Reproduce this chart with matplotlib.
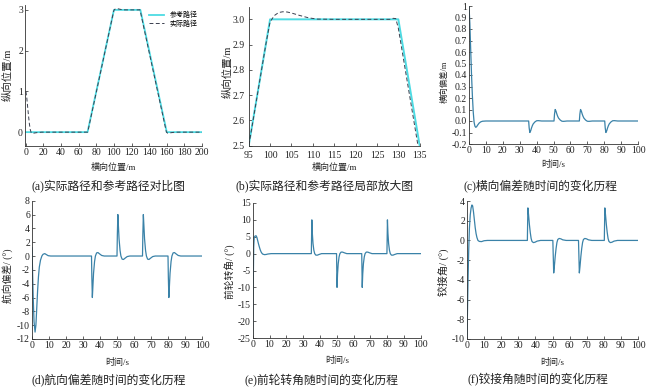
import numpy as np
import matplotlib
matplotlib.use("Agg")
import matplotlib.pyplot as plt

plt.rcParams['font.family'] = ['Liberation Serif', 'Noto Sans CJK SC']
plt.rcParams['axes.unicode_minus'] = False

W, H = 650, 387

# (a)/(b) path data
ref_x = [0, 70, 100, 130, 160, 200]
ref_y = [0, 0, 3, 3, 0, 0]
act_x = [0, 1, 2, 3, 4, 5, 6, 7, 8, 10, 13, 18, 70, 71, 99, 100, 101, 102, 103,
         104, 105, 107, 109, 111, 115, 128, 128.8, 129.4, 130, 134.6, 159.6,
         161, 163, 166, 170, 200]
act_y = [1.0, 0.85, 0.62, 0.4, 0.2, 0.06, -0.01, -0.03, -0.03, -0.02, -0.01, 0,
         0, 0.08, 2.9, 2.99, 3.015, 3.027, 3.03, 3.029, 3.025, 3.015, 3.006,
         3.001, 3.0, 3.0, 3.004, 3.003, 2.965, 2.5, 0.0, -0.025, -0.02, -0.01,
         0, 0]

# (c) lateral error
lat_t = [0, 0.5, 1, 1.5, 2, 2.5, 3, 3.5, 4, 4.5, 5, 6, 7, 8, 10,
         35.3, 35.6, 36, 36.5, 37, 37.5, 38, 39, 40, 41, 43,
         50.3, 50.6, 51, 51.5, 52, 52.5, 53, 54, 55, 56, 58,
         65.3, 65.6, 66, 66.5, 67, 67.5, 68, 69, 70, 71, 73,
         80.3, 80.6, 81, 81.5, 82, 82.5, 83, 84, 85, 86, 88, 100]
lat_v = [1.0, 0.85, 0.62, 0.4, 0.22, 0.08, -0.01, -0.045, -0.055, -0.05, -0.038,
         -0.018, -0.007, -0.002, 0,
         0, -0.06, -0.1, -0.085, -0.06, -0.04, -0.025, -0.008, 0.002, 0.003, 0,
         0, 0.06, 0.1, 0.085, 0.06, 0.04, 0.025, 0.008, -0.002, -0.003, 0,
         0, 0.06, 0.1, 0.085, 0.06, 0.04, 0.025, 0.008, -0.002, -0.003, 0,
         0, -0.06, -0.1, -0.085, -0.06, -0.04, -0.025, -0.008, 0.002, 0.003, 0, 0]

# (d) heading error
head_t = [0, 0.3, 0.7, 1.2, 1.8, 2.3, 2.8, 3.3, 3.8, 4.3, 5, 5.8, 6.5, 7.5, 8.5,
          9.5, 11,
          35, 35.2, 35.5, 35.8, 36.2, 36.8, 37.3, 38, 38.8, 39.8, 41, 42.5,
          50, 50.2, 50.5, 50.8, 51.2, 51.8, 52.3, 53, 53.8, 54.8, 56, 57.5,
          65, 65.2, 65.5, 65.8, 66.2, 66.8, 67.3, 68, 68.8, 69.8, 71, 72.5,
          80, 80.2, 80.5, 80.8, 81.2, 81.8, 82.3, 83, 83.8, 84.8, 86, 87.5, 100]
head_v = [1.2, -2, -6, -9.5, -11, -10, -7.5, -5, -3, -1.6, -0.6, 0, 0.25, 0.35,
          0.2, 0.05, 0,
          0, -3, -6, -4.5, -2.5, -0.8, 0, 0.45, 0.5, 0.3, 0.08, 0,
          0, 3, 6, 4.5, 2.5, 0.8, 0, -0.45, -0.5, -0.3, -0.08, 0,
          0, 3, 6, 4.5, 2.5, 0.8, 0, -0.45, -0.5, -0.3, -0.08, 0,
          0, -3, -6, -4.5, -2.5, -0.8, 0, 0.45, 0.5, 0.3, 0.08, 0, 0]

# (e) front wheel angle
steer_t = [0, 0.3, 0.6, 0.9, 1.4, 2, 2.5, 3, 3.5, 4, 4.5, 5, 5.5, 6, 7, 8, 9, 11,
           34.9, 35.2, 35.5, 35.9, 36.4, 36.9, 37.6, 38.5, 39.5, 41,
           49.9, 50.2, 50.5, 50.9, 51.4, 51.9, 52.6, 53.5, 54.5, 56,
           64.9, 65.2, 65.5, 65.9, 66.4, 66.9, 67.6, 68.5, 69.5, 71,
           79.9, 80.2, 80.5, 80.9, 81.4, 81.9, 82.6, 83.5, 84.5, 86, 100]
steer_v = [-24, -10, 2, 4.8, 5.2, 5.3, 4.8, 3.8, 2.8, 1.9, 1.1, 0.5, 0.1, -0.15,
           -0.3, -0.25, -0.12, 0,
           0, 10, 6, 3, 1, 0, -0.45, -0.45, -0.25, 0,
           0, -10, -6, -3, -1, 0, 0.45, 0.45, 0.25, 0,
           0, -10, -6, -3, -1, 0, 0.45, 0.45, 0.25, 0,
           0, 10, 6, 3, 1, 0, -0.45, -0.45, -0.25, 0, 0]

# (f) articulation angle
art_t = [0, 0.3, 0.6, 1.0, 1.4, 1.9, 2.4, 2.9, 3.3, 3.8, 4.3, 4.8, 5.3, 5.8,
         6.4, 7.2, 8.5, 10, 12,
         35.3, 35.6, 36.0, 36.5, 37, 37.5, 38, 38.8, 39.8, 41, 43,
         50.2, 50.7, 51.1, 51.6, 52.1, 52.6, 53.1, 53.9, 54.9, 56, 58,
         65.2, 65.7, 66.1, 66.6, 67.1, 67.6, 68.1, 68.9, 69.9, 71, 73,
         80.3, 80.6, 81.0, 81.5, 82, 82.5, 83, 83.8, 84.8, 86, 88, 100]
art_v = [-9.8, -7, -4, -1, 1.2, 2.6, 3.3, 3.6, 3.5, 2.9, 2.1, 1.3, 0.7, 0.3,
         0.0, -0.1, -0.12, -0.03, 0,
         0, 3.3, 2.6, 1.6, 0.8, 0.2, -0.1, -0.22, -0.18, -0.07, 0,
         0, -3.3, -2.6, -1.6, -0.8, -0.2, 0.1, 0.2, 0.16, 0.06, 0,
         0, -3.3, -2.6, -1.6, -0.8, -0.2, 0.1, 0.2, 0.16, 0.06, 0,
         0, 3.3, 2.6, 1.6, 0.8, 0.2, -0.1, -0.22, -0.18, -0.07, 0, 0]

captions = ["(a)实际路径和参考路径对比图", "(b)实际路径和参考路径局部放大图",
            "(c)横向偏差随时间的变化历程", "(d)航向偏差随时间的变化历程",
            "(e)前轮转角随时间的变化历程", "(f)铰接角随时间的变化历程"]

REF_C = '#4ddbe3'
ACT_C = '#3a3f4f'
LINE_C = '#3a82a8'

fig = plt.figure(figsize=(W / 100, H / 100), dpi=100)


def add_ax(l, t, w, h):
    ax = fig.add_axes([l / W, 1 - (t + h) / H, w / W, h / H])
    for s in ['top', 'right']:
        ax.spines[s].set_visible(False)
    for s in ['left', 'bottom']:
        ax.spines[s].set_linewidth(0.6)
        ax.spines[s].set_color('#333333')
    ax.tick_params(direction='in', length=2.5, width=0.5, labelsize=7,
                   pad=1.5, colors='#222222')
    return ax


def px_text(x, y, s, size, **kw):
    fig.text(x / W, 1 - y / H, s, fontsize=size, ha='center', va='center',
             color='#222222', **kw)


# (a)
ax = add_ax(25, 5, 177, 141)
ax.plot(ref_x, ref_y, color=REF_C, lw=1.3, label='参考路径')
ax.plot(act_x, act_y, color=ACT_C, lw=0.7, ls=(0, (4, 2.5)), label='实际路径')
ax.set_xlim(-1, 200)
ax.set_ylim(-0.34, 3.12)
ax.set_xticks(np.arange(0, 201, 20))
ax.set_yticks([0, 1, 2, 3])
ax.legend(loc='upper right', fontsize=5, frameon=False, handlelength=2.2,
          borderaxespad=0.2, labelspacing=0.2, bbox_to_anchor=(1.0, 0.99))

# (b)
ax = add_ax(248.7, 6.7, 171, 139)
ax.plot(ref_x, ref_y, color=REF_C, lw=1.4)
ax.plot(act_x, act_y, color=ACT_C, lw=0.7, ls=(0, (4, 2.5)))
ax.set_xlim(95, 135)
ax.set_ylim(2.5, 3.05)
ax.set_xticks(np.arange(95, 136, 5))
ax.set_yticks(np.arange(2.5, 3.01, 0.1))
ax.set_yticklabels(['%.1f' % v for v in np.arange(2.5, 3.01, 0.1)])
ax.tick_params(axis='x', pad=3.5)
ax.tick_params(axis='y', pad=3)

# (c)
ax = add_ax(469, 6, 169, 138)
ax.plot(lat_t, lat_v, color=LINE_C, lw=0.9)
ax.set_xlim(0, 100)
ax.set_ylim(-0.2, 1)
ax.set_xticks(np.arange(0, 101, 10))
yt = np.round(np.arange(-0.2, 1.01, 0.1), 1)
ax.set_yticks(yt)
ax.set_yticklabels(['1' if v == 1 else '%.1f' % v for v in yt])

# (d)
ax = add_ax(32, 200.7, 170, 138.3)
ax.plot(head_t, head_v, color=LINE_C, lw=0.9)
ax.set_xlim(0, 100)
ax.set_ylim(-12, 8)
ax.set_xticks(np.arange(0, 101, 10))
ax.set_yticks(np.arange(-12, 9, 2))

# (e)
ax = add_ax(252.7, 203, 168, 135)
ax.plot(steer_t, steer_v, color=LINE_C, lw=0.9)
ax.set_xlim(0, 100)
ax.set_ylim(-25, 15)
ax.set_xticks(np.arange(0, 101, 10))
ax.set_yticks(np.arange(-25, 16, 5))

# (f)
ax = add_ax(467, 201, 171, 138)
ax.plot(art_t, art_v, color=LINE_C, lw=0.9)
ax.set_xlim(0, 100)
ax.set_ylim(-10, 4)
ax.set_xticks(np.arange(0, 101, 10))
ax.set_yticks(np.arange(-10, 5, 2))

# axis labels
lab = 6.5
px_text(113, 167, '横向位置/m', lab)
px_text(334, 167, '横向位置/m', lab)
px_text(553, 165, '时间/s', lab)
px_text(117, 362, '时间/s', lab)
px_text(337, 360, '时间/s', lab)
px_text(552, 362, '时间/s', lab)
px_text(8, 75, '纵向位置/m', 7.5, rotation=90)
px_text(228, 72, '纵向位置/m', 7.5, rotation=90)
px_text(445, 82, '横向偏差/m', 6, rotation=90)
px_text(8, 276, '航向偏差/ (°)', 7, rotation=90)
px_text(230, 272, '前轮转角/ (°)', 7, rotation=90)
px_text(443, 272, '铰接角/ (°)', 7.5, rotation=90)

# captions
cap = 8.5
px_text(108, 186, captions[0], cap)
px_text(325, 186, captions[1], cap)
px_text(540, 186, captions[2], cap)
px_text(109, 380, captions[3], cap)
px_text(321, 380, captions[4], cap)
px_text(538, 380, captions[5], cap)

fig.savefig('out.png', dpi=100)
